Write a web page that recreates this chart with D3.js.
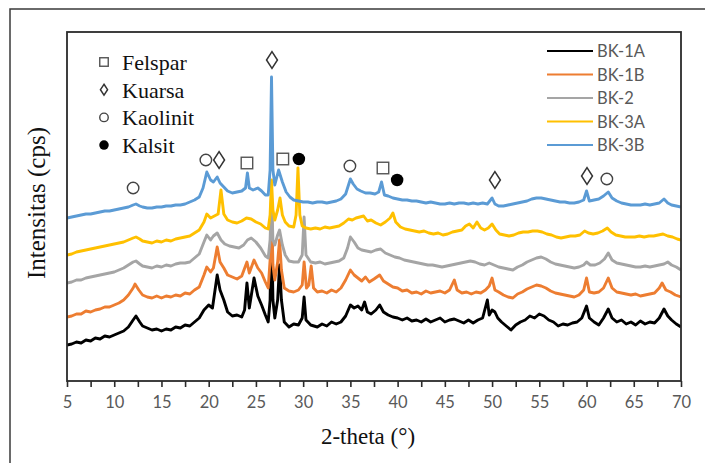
<!DOCTYPE html>
<html><head><meta charset="utf-8">
<script src="https://cdn.jsdelivr.net/npm/d3@7"></script>
<style>body{margin:0;background:#fff}</style>
</head><body><svg id="c" width="705" height="463"></svg>
<script>
const seriesNames = ["BK-1A","BK-1B","BK-2","BK-3A","BK-3B"];
const seriesColors = ["#000000","#ED7D31","#A5A5A5","#FFC000","#5B9BD5"];

const bk1a = [[5,55],[5.5,56],[6,58],[6.5,57],[7,60],[7.5,59],[8,62],[8.5,61],[9,64],[9.5,63],[10,65],[10.5,67],[11,69],[11.5,73],[12,80],[12.3,84],[12.7,78],[13,74],[13.5,72],[14,70],[14.5,71],[15,69],[15.5,71],[16,70],[16.5,73],[17,72],[17.5,75],[18,74],[18.5,78],[19,82],[19.5,90],[20,95],[20.4,92],[20.9,125],[21.2,110],[21.6,100],[22,88],[22.5,84],[23,85],[23.5,83],[23.8,90],[24.05,117],[24.3,92],[24.8,122],[25.2,104],[25.6,95],[26,85],[26.3,78],[26.5,100],[26.65,185],[26.8,100],[27,82],[27.3,100],[27.5,135],[27.7,100],[28,78],[28.5,73],[29,76],[29.5,75],[29.9,82],[30.1,103],[30.3,80],[30.8,75],[31.5,73],[32,76],[32.5,74],[33,78],[33.5,76],[34,78],[34.5,84],[35,95],[35.4,92],[35.8,94],[36.2,90],[36.5,98],[36.8,88],[37.2,86],[37.7,90],[38.1,95],[38.5,88],[39,85],[39.5,83],[40,82],[40.5,80],[41,82],[41.5,79],[42,80],[42.5,78],[43,81],[43.5,78],[44,80],[44.5,82],[45,78],[45.5,80],[46,81],[46.5,79],[47,77],[47.5,80],[48,77],[48.5,80],[49,82],[49.5,100],[49.7,85],[50,90],[50.3,88],[50.6,82],[51,78],[51.5,74],[52,70],[52.5,75],[53,78],[53.5,80],[54,84],[54.5,82],[55,86],[55.5,84],[56,80],[56.5,78],[57,74],[57.5,76],[58,75],[58.5,77],[59,78],[59.5,82],[60,94],[60.3,82],[60.8,78],[61.3,75],[61.8,82],[62.3,91],[62.7,82],[63.2,78],[63.7,80],[64.2,76],[64.7,78],[65.2,75],[65.7,79],[66.2,76],[66.7,78],[67.2,77],[67.7,82],[68.2,91],[68.6,84],[69,80],[69.5,76],[70,73]];

const bk1b = [[5,83],[5.5,84],[6,86],[6.5,86],[7,89],[7.5,88],[8,90],[8.5,91],[9,93],[9.5,93],[10,95],[10.5,97],[11,100],[11.5,105],[12,112],[12.2,116],[12.6,110],[13,105],[13.5,103],[14,102],[14.5,104],[15,102],[15.5,104],[16,103],[16.5,105],[17,104],[17.5,107],[18,106],[18.5,110],[19,113],[19.5,125],[19.8,133],[20.2,128],[20.5,132],[20.9,153],[21.2,138],[21.6,132],[22,125],[22.5,123],[23,121],[23.5,124],[24.05,138],[24.3,127],[24.8,140],[25.2,132],[25.6,127],[26,118],[26.3,112],[26.5,140],[26.65,195],[26.8,135],[27,120],[27.3,138],[27.5,160],[27.7,130],[28,112],[28.5,109],[29,108],[29.5,110],[29.9,115],[30.1,138],[30.35,112],[30.6,115],[30.85,134],[31.1,112],[31.5,108],[32,109],[32.5,107],[33,110],[33.5,108],[34,112],[34.5,120],[35,130],[35.4,125],[35.8,122],[36.2,119],[36.6,123],[37,118],[37.5,121],[38.1,125],[38.5,119],[39,116],[39.5,113],[40,112],[40.5,109],[41,110],[41.5,107],[42,108],[42.5,106],[43,109],[43.5,107],[44,108],[44.5,109],[45,107],[45.5,110],[46,120],[46.3,110],[46.8,107],[47.3,108],[47.8,106],[48.3,108],[48.8,107],[49.3,110],[49.7,114],[50,122],[50.3,110],[50.7,108],[51.2,105],[51.7,103],[52.2,102],[52.7,106],[53.2,108],[53.7,111],[54.2,113],[54.7,115],[55.2,114],[55.7,112],[56.2,109],[56.7,107],[57.2,106],[57.7,105],[58.2,104],[58.7,103],[59.2,105],[59.7,110],[60,122],[60.3,108],[60.8,107],[61.3,108],[61.8,112],[62.3,122],[62.7,112],[63.2,108],[63.7,107],[64.2,106],[64.7,105],[65.2,106],[65.7,104],[66.2,105],[66.7,106],[67.2,107],[67.7,112],[68,117],[68.4,110],[68.9,108],[69.4,105],[70,103]];

const bk2 = [[5,117],[5.5,118],[6,120],[6.5,120],[7,122],[7.5,123],[8,124],[8.5,125],[9,126],[9.5,127],[10,128],[10.5,130],[11,132],[11.5,135],[12,138],[12.3,139],[12.7,136],[13,134],[13.5,133],[14,132],[14.5,134],[15,133],[15.5,135],[16,134],[16.5,136],[17,137],[17.5,137],[18,138],[18.5,142],[19,146],[19.5,158],[19.8,165],[20.2,160],[20.5,164],[20.9,167],[21.3,160],[21.7,156],[22.2,154],[22.7,153],[23.2,152],[23.7,155],[24.1,160],[24.5,162],[25,158],[25.5,152],[26,144],[26.3,142],[26.5,160],[26.65,205],[26.8,160],[27,155],[27.3,165],[27.5,170],[27.8,155],[28.1,145],[28.5,139],[29,138],[29.5,138],[29.9,145],[30.1,183],[30.3,145],[30.8,138],[31.3,137],[31.8,138],[32.3,136],[32.8,137],[33.3,138],[33.8,139],[34.3,142],[34.7,152],[35,163],[35.4,158],[35.8,152],[36.2,150],[36.7,149],[37.2,148],[37.7,150],[38.2,151],[38.7,147],[39.2,145],[39.7,143],[40.2,142],[40.7,140],[41.2,139],[41.7,138],[42.2,137],[42.7,136],[43.2,135],[43.7,135],[44.2,134],[44.7,133],[45.2,134],[45.7,135],[46.2,136],[46.7,137],[47.2,138],[47.7,139],[48.2,138],[48.7,136],[49.2,135],[49.7,137],[50.2,135],[50.7,133],[51.2,132],[51.7,131],[52.2,130],[52.7,133],[53.2,135],[53.7,138],[54.2,140],[54.7,142],[55.2,143],[55.7,141],[56.2,138],[56.7,136],[57.2,135],[57.7,134],[58.2,133],[58.7,132],[59.2,133],[59.7,135],[60,138],[60.4,135],[60.9,135],[61.4,137],[61.9,141],[62.3,147],[62.7,140],[63.2,137],[63.7,136],[64.2,135],[64.7,134],[65.2,133],[65.7,133],[66.2,134],[66.7,133],[67.2,134],[67.7,135],[68.2,136],[68.6,138],[69,135],[69.5,133],[70,130]];

const bk3a = [[5,145],[5.5,146],[6,148],[6.5,149],[7,150],[7.5,151],[8,152],[8.5,153],[9,154],[9.5,155],[10,156],[10.5,157],[11,158],[11.5,160],[12,162],[12.3,163],[12.7,161],[13,159],[13.5,158],[14,157],[14.5,159],[15,158],[15.5,160],[16,159],[16.5,161],[17,162],[17.5,163],[18,164],[18.5,167],[19,170],[19.5,178],[19.8,186],[20.2,182],[20.6,184],[21,186],[21.3,210],[21.6,186],[22,180],[22.5,178],[23,177],[23.5,179],[24,182],[24.5,181],[25,178],[25.5,176],[26,172],[26.3,171],[26.5,185],[26.65,220],[26.8,190],[27,180],[27.3,190],[27.55,202],[27.8,185],[28.1,178],[28.5,174],[29,173],[29.25,185],[29.45,232],[29.65,185],[29.9,174],[30.3,172],[30.8,171],[31.3,172],[31.8,171],[32.3,173],[32.8,172],[33.3,173],[33.8,174],[34.3,177],[34.8,181],[35.2,180],[35.6,182],[36,183],[36.4,184],[36.8,179],[37.2,180],[37.7,177],[38.2,175],[38.7,178],[39.2,182],[39.5,187],[39.8,178],[40.3,173],[40.8,171],[41.3,170],[41.8,169],[42.3,168],[42.8,169],[43.3,167],[43.8,166],[44.3,167],[44.8,165],[45.3,166],[45.8,168],[46.3,169],[46.8,170],[47.2,174],[47.6,176],[48,172],[48.4,178],[48.8,172],[49.2,170],[49.6,172],[50,176],[50.4,170],[50.8,166],[51.3,165],[51.8,164],[52.3,165],[52.8,167],[53.3,168],[53.8,168],[54.3,169],[54.8,169],[55.3,168],[55.8,166],[56.3,165],[56.8,163],[57.3,162],[57.8,163],[58.3,164],[58.8,164],[59.3,165],[59.8,169],[60.2,167],[60.7,166],[61.2,167],[61.7,169],[62.2,172],[62.6,168],[63.1,165],[63.6,164],[64.1,163],[64.6,163],[65.1,163],[65.6,164],[66.1,163],[66.6,164],[67.1,164],[67.6,165],[68.1,166],[68.6,164],[69.1,163],[69.6,161],[70,160]];

const bk3b = [[5,182],[5.5,183],[6,184],[6.5,185],[7,186],[7.5,186],[8,187],[8.5,188],[9,189],[9.5,189],[10,190],[10.5,191],[11,192],[11.5,193],[12,195],[12.3,196],[12.7,194],[13,193],[13.5,192],[14,192],[14.5,193],[15,193],[15.5,194],[16,194],[16.5,195],[17,195],[17.5,196],[18,198],[18.5,200],[19,203],[19.4,212],[19.8,228],[20.2,220],[20.5,218],[20.9,223],[21.2,217],[21.6,213],[22,209],[22.5,207],[23,208],[23.5,209],[23.9,212],[24.1,227],[24.3,212],[24.7,210],[25.2,212],[25.6,209],[26,205],[26.3,205],[26.5,230],[26.65,323],[26.8,230],[27,215],[27.4,230],[27.8,218],[28.2,208],[28.6,203],[29,200],[29.5,199],[30,198],[30.5,198],[31,197],[31.5,198],[32,198],[32.5,197],[33,198],[33.5,199],[34,201],[34.5,206],[34.8,215],[35,221],[35.3,216],[35.7,211],[36.1,209],[36.6,207],[37.1,207],[37.6,206],[38,208],[38.3,218],[38.6,205],[39,204],[39.5,202],[40,201],[40.5,200],[41,200],[41.5,199],[42,199],[42.5,198],[43,197],[43.5,198],[44,197],[44.5,196],[45,196],[45.5,197],[46,196],[46.5,197],[47,197],[47.5,196],[48,197],[48.5,196],[49,197],[49.5,196],[50,202],[50.3,196],[50.7,194],[51.2,194],[51.7,195],[52.2,196],[52.7,197],[53.2,198],[53.7,199],[54.2,201],[54.7,202],[55.2,202],[55.7,201],[56.2,200],[56.7,199],[57.2,198],[57.7,198],[58.2,197],[58.7,197],[59.2,198],[59.7,200],[60,209],[60.3,199],[60.8,200],[61.3,201],[61.8,204],[62.3,208],[62.7,202],[63.2,199],[63.7,197],[64.2,196],[64.7,195],[65.2,195],[65.7,195],[66.2,196],[66.7,195],[67.2,196],[67.7,197],[68.2,201],[68.6,197],[69,195],[69.5,194],[70,193]];

const xTickLabels = [5,10,15,20,25,30,35,40,45,50,55,60,65,70];
const xMinorTicks = [7.5,12.5,17.5,22.5,27.5,32.5,37.5,42.5,47.5,52.5,57.5,62.5,67.5];
const phaseNames = ["Felspar","Kuarsa","Kaolinit","Kalsit"];
const phaseSymbols = ["square","diamond","circle","dot"];
const markTheta = [12.0,19.7,21.1,24.05,26.7,27.85,29.55,34.95,38.45,39.95,50.3,60.05,62.15];
const markLevel = [212,240,240,237,340,241,241,234,232,220,220,224,221];
const markPhase = ["Kaolinit","Kaolinit","Kuarsa","Felspar","Kuarsa","Felspar","Kalsit","Kaolinit","Felspar","Kalsit","Kuarsa","Kuarsa","Kaolinit"];

const series = [bk1a,bk1b,bk2,bk3a,bk3b];

const svg = d3.select("#c");
svg.append("rect").attr("width",705).attr("height",463).attr("fill","#fff");
svg.append("rect").attr("x",10).attr("y",9).attr("width",720).attr("height",480)
  .attr("fill","none").attr("stroke","#3a3a3a").attr("stroke-width",1.5);

const L=67,R=681,T=32,B=381;
const x = d3.scaleLinear().domain([5,70]).range([L,R]);
const y = d3.scaleLinear().domain([19,368]).range([B,T]);

svg.append("clipPath").attr("id","clip").append("rect").attr("x",L).attr("y",T).attr("width",R-L).attr("height",B-T);

const line = d3.line().x(d=>x(d[0])).y(d=>y(d[1]));
const gl = svg.append("g").attr("clip-path","url(#clip)");
series.forEach((s,i)=>{
  gl.append("path").datum(s).attr("d",line).attr("fill","none")
    .attr("stroke",seriesColors[i]).attr("stroke-width",2.9).attr("stroke-linejoin","round");
});

// frame
svg.append("rect").attr("x",L).attr("y",T).attr("width",R-L).attr("height",B-T)
  .attr("fill","none").attr("stroke","#2b2b2b").attr("stroke-width",1.8);

// x axis
const ax = svg.append("g").attr("transform",`translate(0,${B})`)
  .call(d3.axisBottom(x).tickValues(xTickLabels.concat(xMinorTicks)).tickSize(6).tickPadding(9)
    .tickFormat(d=> xTickLabels.includes(d)? d : ""));
ax.select(".domain").remove();
ax.selectAll(".tick line").attr("stroke","#2b2b2b").attr("stroke-width",1.6);
ax.selectAll(".tick text").attr("fill","#595959").style("font-family","Lato, 'Open Sans', sans-serif").style("font-size","16.5px");

// axis titles
svg.append("text").attr("x",368).attr("y",444).attr("text-anchor","middle")
  .style("font-family","'Liberation Serif', 'Times New Roman', serif").style("font-size","23px").attr("fill","#111")
  .text("2-theta (°)");
svg.append("text").attr("transform","translate(45,203) rotate(-90)").attr("text-anchor","middle")
  .style("font-family","'Liberation Serif', 'Times New Roman', serif").style("font-size","25px").attr("fill","#111")
  .text("Intensitas (cps)");

// series legend
const lg = svg.append("g");
seriesNames.forEach((n,i)=>{
  const yy = 51 + i*23.5;
  lg.append("line").attr("x1",547).attr("x2",593).attr("y1",yy).attr("y2",yy)
    .attr("stroke",seriesColors[i]).attr("stroke-width",2);
  lg.append("text").attr("x",597).attr("y",yy+6).attr("fill","#595959")
    .style("font-family","Lato, 'Open Sans', sans-serif").style("font-size","16.5px").text(n);
});

function drawSym(g, kind, cx, cy, s){
  if(kind==="square"){
    g.append("rect").attr("x",cx-s/2).attr("y",cy-s/2).attr("width",s).attr("height",s)
      .attr("fill","#fff").attr("stroke","#555").attr("stroke-width",1.4);
  } else if(kind==="diamond"){
    const w=s*0.95,h=s*1.45;
    g.append("polygon").attr("points",`${cx},${cy-h/2} ${cx+w/2},${cy} ${cx},${cy+h/2} ${cx-w/2},${cy}`)
      .attr("fill","#fff").attr("stroke","#333").attr("stroke-width",1.5);
  } else if(kind==="circle"){
    g.append("circle").attr("cx",cx).attr("cy",cy).attr("r",s/2)
      .attr("fill","#fff").attr("stroke","#444").attr("stroke-width",1.4);
  } else {
    g.append("circle").attr("cx",cx).attr("cy",cy).attr("r",s/2+0.5).attr("fill","#000");
  }
}

// phase legend
const pg = svg.append("g");
phaseNames.forEach((n,i)=>{
  const base = 70 + i*27.7;
  drawSym(pg, phaseSymbols[i], 104, base-8, i===1?7.5:8.5);
  pg.append("text").attr("x",122).attr("y",base).attr("fill","#111")
    .style("font-family","'Liberation Serif', 'Times New Roman', serif").style("font-size","22px").text(n);
});

// peak markers
const mg = svg.append("g");
markTheta.forEach((t,i)=>{
  const k = phaseSymbols[phaseNames.indexOf(markPhase[i])];
  drawSym(mg, k, x(t), y(markLevel[i]), 11.5);
});
</script></body></html>
